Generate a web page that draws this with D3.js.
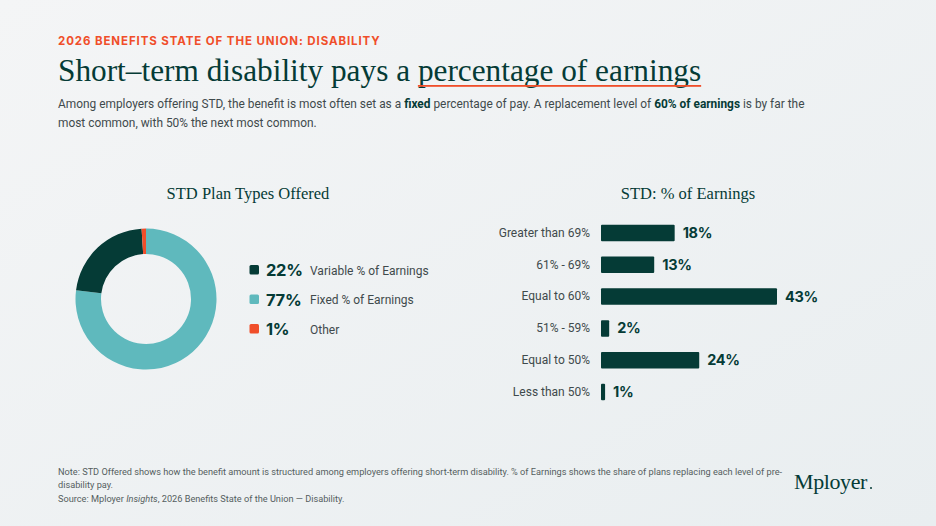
<!DOCTYPE html>
<html><head><meta charset="utf-8">
<script src="https://cdn.jsdelivr.net/npm/d3@7"></script>
<style>
html,body{margin:0;padding:0;background:#eff2f3;}
svg{display:block;}
</style></head>
<body>
<script>
const donutLabels = ["Fixed % of Earnings","Variable % of Earnings","Other"];
const donutValues = [77,22,1];
const legendOrder = [1,0,2];
const barCategories = ["Greater than 69%","61% - 69%","Equal to 60%","51% - 59%","Equal to 50%","Less than 50%"];
const barValues = [18,13,43,2,24,1];

const W=936,H=526;
const dark="#053b36", teal="#5fb9bd", orange="#f04e2a";
const sans="Inter, 'Open Sans', sans-serif";
const body="Roboto, Inter, sans-serif";
const serif="'Liberation Serif', 'DejaVu Serif', serif";

const svg=d3.select("body").append("svg").attr("width",W).attr("height",H);
const defs=svg.append("defs");
const g=defs.append("linearGradient").attr("id","bg").attr("x1",0).attr("y1",0).attr("x2",1).attr("y2",1);
g.append("stop").attr("offset","0%").attr("stop-color","#f4f5f6");
g.append("stop").attr("offset","100%").attr("stop-color","#e9eef0");
svg.append("rect").attr("width",W).attr("height",H).attr("fill","url(#bg)");

// header
svg.append("text").attr("x",58).attr("y",45).attr("font-family",sans).attr("font-weight",700)
  .attr("font-size",11.5).attr("letter-spacing",0.9).attr("fill",orange).text("2026 BENEFITS STATE OF THE UNION: DISABILITY");
const title=svg.append("text").attr("x",58).attr("y",81).attr("font-family",serif).attr("font-size",31.3).attr("fill",dark);
title.append("tspan").text("Short\u2013term disability pays a ");
const tsp=title.append("tspan").text("percentage of earnings");
const full=title.node().getComputedTextLength();
const partLen=tsp.node().getComputedTextLength();
svg.append("rect").attr("x",58+full-partLen).attr("y",85).attr("width",partLen).attr("height",1.8).attr("fill",orange);

const sub=svg.append("text").attr("font-family",body).attr("font-size",11.9).attr("fill","#3f4a4c");
const l1=sub.append("tspan").attr("x",58).attr("y",108);
l1.append("tspan").text("Among employers offering STD, the benefit is most often set as a ");
l1.append("tspan").attr("font-weight",700).attr("fill",dark).text("fixed");
l1.append("tspan").text(" percentage of pay. A replacement level of ");
l1.append("tspan").attr("font-weight",700).attr("fill",dark).text("60% of earnings");
l1.append("tspan").text(" is by far the");
sub.append("tspan").attr("x",58).attr("y",127).text("most common, with 50% the next most common.");

// donut
svg.append("text").attr("x",248).attr("y",199).attr("text-anchor","middle").attr("font-family",serif)
  .attr("font-size",16.5).attr("fill",dark).text("STD Plan Types Offered");
const colors=[teal,dark,orange];
const pie=d3.pie().sort(null).value(d=>d)(donutValues);
const arc=d3.arc().innerRadius(45).outerRadius(70.5);
svg.append("g").attr("transform","translate(146,299)").selectAll("path").data(pie).join("path")
  .attr("d",arc).attr("fill",(d,i)=>colors[i]);

const leg=svg.append("g");
legendOrder.forEach((k,j)=>{
  const y=270+j*29.5;
  leg.append("rect").attr("x",249.5).attr("y",y-5).attr("width",9.5).attr("height",9.5).attr("rx",1.5).attr("fill",colors[k]);
  leg.append("text").attr("x",266).attr("y",y+6).attr("font-family",sans).attr("font-weight",700).attr("font-size",16.5)
    .attr("letter-spacing",-0.3).attr("fill",dark).text(donutValues[k]+"%");
  leg.append("text").attr("x",310).attr("y",y+4.5).attr("font-family",body).attr("font-size",12)
    .attr("fill","#3f4a4c").text(donutLabels[k]);
});

// bars
svg.append("text").attr("x",688).attr("y",199).attr("text-anchor","middle").attr("font-family",serif)
  .attr("font-size",16.5).attr("fill",dark).text("STD: % of Earnings");
const x=d3.scaleLinear().domain([0,43]).range([601,777]);
const y=d3.scaleBand().domain(barCategories).range([217,408]).paddingInner(0.48).paddingOuter(0.24);
const bg=svg.append("g");
bg.selectAll("rect").data(barValues).join("rect")
  .attr("x",x(0)).attr("y",(d,i)=>y(barCategories[i])).attr("width",d=>x(d)-x(0)).attr("height",y.bandwidth())
  .attr("rx",1).attr("fill",dark);
bg.selectAll("text.v").data(barValues).join("text").attr("class","v")
  .attr("x",d=>x(d)+8).attr("y",(d,i)=>y(barCategories[i])+y.bandwidth()/2+5)
  .attr("font-family",sans).attr("font-weight",700).attr("font-size",14.5).attr("letter-spacing",-0.3).attr("fill",dark).text(d=>d+"%");
const ax=d3.axisLeft(y).tickSize(0).tickPadding(0);
const axg=svg.append("g").attr("transform","translate(590,0)").call(ax);
axg.select(".domain").remove();
axg.selectAll("text").attr("font-family",body).attr("font-size",12).attr("fill","#3f4a4c");

// footer
const ft=svg.append("text").attr("font-family",body).attr("font-size",9.2).attr("fill","#555e60");
ft.append("tspan").attr("x",58).attr("y",474.5).text("Note: STD Offered shows how the benefit amount is structured among employers offering short-term disability. % of Earnings shows the share of plans replacing each level of pre-");
ft.append("tspan").attr("x",58).attr("y",488).text("disability pay.");
const s=ft.append("tspan").attr("x",58).attr("y",501.5);
s.append("tspan").text("Source: Mployer ");
s.append("tspan").attr("font-style","italic").text("Insights");
s.append("tspan").text(", 2026 Benefits State of the Union \u2014 Disability.");

svg.append("text").attr("x",794).attr("y",489).attr("font-family",serif).attr("font-size",22).attr("fill",dark)
  .attr("letter-spacing",-0.4).text("Mployer");
svg.append("circle").attr("cx",871).attr("cy",488).attr("r",1).attr("fill",dark);
</script>
</body></html>
